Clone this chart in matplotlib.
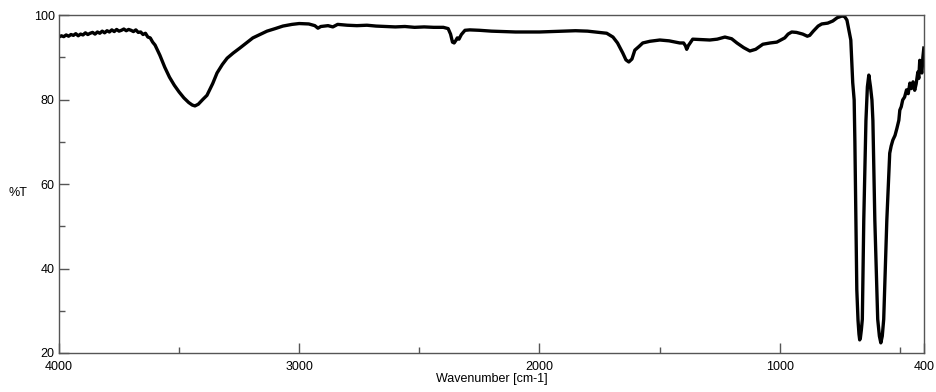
import matplotlib
matplotlib.use('Agg')
import matplotlib.pyplot as plt
from matplotlib.ticker import MultipleLocator

# IR spectrum: (wavenumber cm-1, %T) per region
oh_region = [
    (4000, 94.8), (3990, 95.1), (3980, 94.9), (3970, 95.3), (3960, 95.0),
    (3950, 95.4), (3940, 95.2), (3930, 95.6), (3920, 95.1), (3910, 95.5),
    (3900, 95.3), (3890, 95.8), (3880, 95.4), (3870, 95.7), (3860, 95.9),
    (3850, 95.5), (3840, 96.0), (3830, 95.7), (3820, 96.2), (3810, 95.8),
    (3800, 96.3), (3790, 96.0), (3780, 96.5), (3770, 96.1), (3760, 96.6),
    (3750, 96.2), (3740, 96.4), (3730, 96.7), (3720, 96.3), (3710, 96.6),
    (3700, 96.4), (3690, 96.1), (3680, 96.5), (3670, 95.9), (3660, 96.0),
    (3650, 95.4), (3640, 95.7), (3630, 94.8), (3620, 94.6), (3610, 93.6),
    (3600, 92.9), (3580, 90.5), (3560, 87.7), (3540, 85.3), (3520, 83.4),
    (3500, 81.8), (3480, 80.4), (3460, 79.3), (3445, 78.7), (3434, 78.5),
    (3420, 78.9), (3400, 80.1), (3384, 81.0), (3360, 83.8), (3342, 86.3),
    (3320, 88.3), (3300, 89.8), (3275, 91.0), (3247, 92.2), (3220, 93.4),
    (3193, 94.6), (3160, 95.5), (3134, 96.2), (3100, 96.8), (3068, 97.4),
    (3030, 97.8), (3000, 98.0),
]
mid_region = [
    (2960, 97.9), (2935, 97.5), (2922, 96.9), (2910, 97.3), (2880, 97.5),
    (2860, 97.2), (2840, 97.8), (2800, 97.6), (2760, 97.5), (2718, 97.6),
    (2680, 97.4), (2640, 97.3), (2600, 97.2), (2560, 97.3), (2520, 97.1),
    (2480, 97.2), (2440, 97.1), (2400, 97.1), (2380, 96.8), (2370, 95.5),
    (2362, 93.6), (2355, 93.4), (2348, 94.0), (2342, 94.6), (2335, 94.3),
    (2325, 95.4), (2310, 96.4), (2290, 96.5), (2250, 96.4), (2200, 96.2),
    (2150, 96.1), (2100, 96.0), (2050, 96.0), (2000, 96.0), (1950, 96.1),
    (1900, 96.2), (1850, 96.3), (1800, 96.2), (1750, 95.9), (1720, 95.7),
    (1694, 94.8), (1675, 93.4), (1653, 91.0), (1640, 89.4), (1628, 88.9),
    (1615, 89.6), (1603, 91.7), (1585, 92.6), (1570, 93.4), (1540, 93.8),
    (1499, 94.1), (1460, 93.9), (1416, 93.4), (1400, 93.4), (1392, 92.7),
    (1387, 91.9), (1380, 92.8), (1362, 94.3), (1330, 94.2), (1291, 94.1),
    (1260, 94.3), (1228, 94.8), (1200, 94.4), (1178, 93.4), (1150, 92.3),
    (1124, 91.5), (1100, 91.9), (1070, 93.1), (1040, 93.4), (1012, 93.6),
    (995, 94.1), (979, 94.6), (965, 95.5), (950, 96.0), (930, 95.9),
    (904, 95.5), (885, 95.0), (875, 95.2), (860, 96.2), (840, 97.4),
    (825, 97.9), (800, 98.1), (779, 98.6), (760, 99.4), (740, 99.8),
    (729, 99.6), (720, 98.8),
]
low_region = [
    (712, 96.5), (704, 94.1), (700, 89.3), (696, 84.0), (690, 79.9),
    (687, 70.0), (683, 51.5), (679, 35.0), (674, 27.8), (670, 24.5),
    (667, 23.1), (664, 23.6), (660, 25.5), (656, 28.0), (650, 51.5),
    (641, 75.0), (635, 83.0), (629, 85.8), (622, 83.0), (616, 79.9),
    (612, 75.0), (604, 51.5), (592, 28.0), (585, 24.0), (579, 22.4),
    (573, 24.0), (567, 28.0), (554, 51.5), (542, 67.3), (536, 69.0),
    (529, 70.4), (520, 71.5), (512, 73.2), (504, 75.1), (500, 77.5),
    (494, 78.3), (488, 79.9), (480, 80.6), (472, 82.3), (465, 81.4),
    (458, 83.9), (452, 82.6), (445, 84.2), (438, 82.2), (432, 83.7),
    (425, 86.5), (421, 85.0), (417, 89.3), (412, 86.8), (408, 86.3),
    (404, 90.0), (400, 92.2),
]

spectrum = oh_region + mid_region + low_region
wavenumber = [p[0] for p in spectrum]
transmittance = [p[1] for p in spectrum]

fig = plt.figure(figsize=(9.36, 3.92), dpi=100)
ax = fig.add_axes([0.063, 0.0995, 0.924, 0.862])
ax.plot(wavenumber, transmittance, color='black', linewidth=2.4, solid_joinstyle='round')

ax.set_xlim(4000, 400)
ax.set_ylim(20, 100)
ax.set_xticks([4000, 3000, 2000, 1000, 400])
ax.xaxis.set_minor_locator(MultipleLocator(500))
ax.yaxis.set_major_locator(MultipleLocator(20))
ax.yaxis.set_minor_locator(MultipleLocator(10))

spine_color = '#555555'
for s in ax.spines.values():
    s.set_color(spine_color)
    s.set_linewidth(1.0)
ax.tick_params(which='both', direction='in', color=spine_color, width=1.0,
               labelsize=9, top=False, right=False)
ax.tick_params(which='major', length=7)
ax.tick_params(which='minor', length=4)
ax.tick_params(axis='y', pad=3)
ax.tick_params(axis='x', pad=6)
for lab in ax.get_xticklabels() + ax.get_yticklabels():
    lab.set_fontfamily('Liberation Sans')

ax.set_xlabel('Wavenumber [cm-1]', fontsize=9, family='Liberation Sans', labelpad=0)
fig.text(0.009, 1 - 193 / 392, '%T', fontsize=9, family='Liberation Sans',
         va='center', ha='left')

plt.savefig('out.png', dpi=100)
